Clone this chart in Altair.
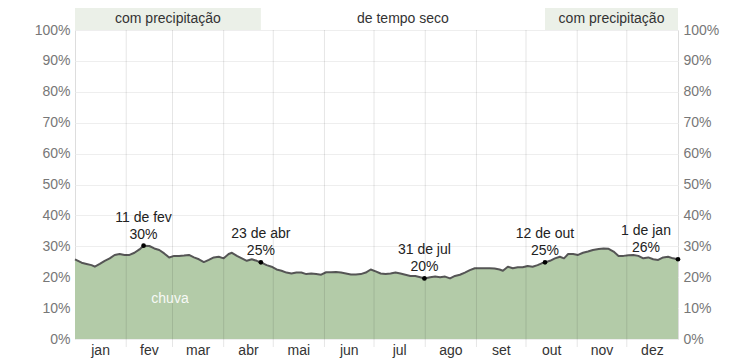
import altair as alt
import pandas as pd

# ---- data ----
days = [0, 4, 7, 10, 12, 15, 18, 21, 24, 27, 30, 33, 36, 39, 41.5, 45, 48, 51, 54, 57,
        60, 63, 66, 69, 72, 75, 78, 81, 84, 87, 90, 93, 95, 98, 101, 104, 107, 110, 112.5,
        116, 119, 122, 125, 128, 131, 134, 137, 140, 143, 146, 149, 152, 155, 158, 161,
        164, 167, 170, 173, 176, 179, 182, 185, 188, 191, 194, 197, 200, 203, 206, 209,
        211.5, 215, 218, 221, 224, 227, 230, 233, 236, 239, 242, 245, 248, 251, 254, 257,
        259, 262, 265, 268, 271, 274, 277, 280, 282.5, 284.5, 287.5, 290.5, 293.5, 296,
        298.5, 301.5, 304.5, 307.5, 310.5, 313.5, 317, 320, 323, 326, 329, 332, 335, 338,
        341, 344, 347, 350, 353, 356, 359, 362, 365]
rain = [25.8, 24.7, 24.3, 23.9, 23.4, 24.3, 25.3, 26.1, 27.2, 27.5, 27.2, 27.2, 27.9, 29.0,
        30.2, 30.1, 29.3, 28.8, 27.7, 26.4, 26.9, 26.9, 27.0, 27.2, 26.4, 25.8, 24.9, 25.6,
        26.4, 26.6, 26.1, 27.5, 27.9, 26.9, 26.1, 25.3, 25.8, 25.3, 24.8, 23.9, 23.4, 22.5,
        22.1, 21.5, 21.2, 21.5, 21.5, 21.0, 21.2, 21.0, 20.8, 21.6, 21.6, 21.7, 21.5, 21.2,
        20.9, 20.9, 21.0, 21.5, 22.5, 21.9, 21.2, 21.0, 21.2, 21.5, 21.2, 20.8, 20.4, 20.4,
        20.0, 19.6, 20.0, 20.2, 20.0, 20.2, 19.6, 20.4, 20.8, 21.5, 22.3, 22.9, 22.9, 22.9,
        22.9, 22.8, 22.5, 22.1, 23.4, 22.9, 23.2, 23.2, 23.6, 23.4, 23.9, 24.5, 24.8, 25.3,
        26.1, 26.6, 26.1, 27.5, 27.5, 27.2, 27.9, 28.3, 28.8, 29.1, 29.3, 29.2, 28.3, 26.9,
        26.9, 27.1, 27.2, 26.9, 26.1, 26.4, 25.8, 25.6, 26.4, 26.6, 26.1, 25.8]

months = ["jan", "fev", "mar", "abr", "mai", "jun", "jul", "ago", "set", "out", "nov", "dez"]
month_len = [31, 28, 31, 30, 31, 30, 31, 31, 30, 31, 30, 31]

ann_day = [41.5, 112.5, 211.5, 284.5]
ann_val = [30.2, 24.8, 19.6, 24.8]
ann_text = ["11 de fev\n30%", "23 de abr\n25%", "31 de jul\n20%", "12 de out\n25%"]
end_day = [365]
end_val = [25.8]
end_text = ["1 de jan\n26%"]

season_start = [0, 112.5, 284.5]
season_end = [112.5, 284.5, 365]
season_label = ["com precipitação", "de tempo seco", "com precipitação"]
season_wet = [True, False, True]

label_day = [57.5]
label_val = [13]
label_text = ["chuva"]

# ---- derived tables ----
starts = [sum(month_len[:i]) for i in range(12)]
mids = [s + l / 2 for s, l in zip(starts, month_len)]
bounds = starts[1:]

df = pd.DataFrame({"day": days, "rain": rain})
df_b = pd.DataFrame({"day": bounds})
df_m = pd.DataFrame({"day": mids, "m": months})
df_ann = pd.DataFrame({"day": ann_day, "v": ann_val, "t": ann_text})
df_end = pd.DataFrame({"day": end_day, "v": end_val, "t": end_text})
df_dots = pd.DataFrame({"day": ann_day + end_day, "v": ann_val + end_val})
df_s = pd.DataFrame({"s": season_start, "e": season_end, "t": season_label, "wet": season_wet})
df_s["mid"] = (df_s["s"] + df_s["e"]) / 2
df_l = pd.DataFrame({"day": label_day, "v": label_val, "t": label_text})

W, H = 603, 309
FONT = "Liberation Sans"

xscale = alt.Scale(domain=[0, 365], nice=False, zero=False)
yscale = alt.Scale(domain=[0, 100], nice=False)

y_left = alt.Axis(values=list(range(0, 101, 10)), labelExpr="datum.value + '%'",
                  orient="left", ticks=False, domain=False, grid=True, gridColor="#eeeeee",
                  title=None, labelFontSize=14, labelColor="#777", labelPadding=5,
                  labelFont=FONT)
y_right = alt.Axis(values=list(range(0, 101, 10)), labelExpr="datum.value + '%'",
                   orient="right", ticks=False, domain=False, grid=False,
                   title=None, labelFontSize=14, labelColor="#777", labelPadding=5,
                   labelFont=FONT)

X = lambda f: alt.X(f, scale=xscale, axis=None)

area = alt.Chart(df).mark_area(color="#b3cba8", opacity=1).encode(
    x=X("day:Q"),
    y=alt.Y("rain:Q", scale=yscale, axis=y_left),
)
line = alt.Chart(df).mark_line(color="#555555", strokeWidth=2, strokeJoin="round").encode(
    x=X("day:Q"),
    y=alt.Y("rain:Q", scale=yscale, axis=y_right),
)
vrules = alt.Chart(df_b).mark_rule(color="black", opacity=0.1, strokeWidth=1).encode(
    x=X("day:Q"),
    y=alt.value(0),
    y2=alt.value(H + 8),
)
month_text = alt.Chart(df_m).mark_text(
    fontSize=14, color="#333", baseline="middle", font=FONT
).encode(
    x=X("day:Q"),
    y=alt.value(H + 12),
    text="m:N",
)
dots = alt.Chart(df_dots).mark_circle(color="black", size=22, opacity=1).encode(
    x=X("day:Q"),
    y=alt.Y("v:Q", scale=yscale, axis=None),
)
ann = alt.Chart(df_ann).mark_text(
    lineBreak="\n", baseline="bottom", align="center", dy=-21, fontSize=14,
    lineHeight=17, color="#222", font=FONT
).encode(
    x=X("day:Q"),
    y=alt.Y("v:Q", scale=yscale, axis=None),
    text="t:N",
)
ann_end = alt.Chart(df_end).mark_text(
    lineBreak="\n", baseline="bottom", align="center", dx=-32, dy=-21, fontSize=14,
    lineHeight=17, color="#222", font=FONT
).encode(
    x=X("day:Q"),
    y=alt.Y("v:Q", scale=yscale, axis=None),
    text="t:N",
)
bands = alt.Chart(df_s).transform_filter("datum.wet").mark_rect(color="#ebf0e8").encode(
    x=X("s:Q"),
    x2="e:Q",
    y=alt.value(-22),
    y2=alt.value(0),
)
band_text = alt.Chart(df_s).mark_text(
    fontSize=14, color="#333", baseline="middle", font=FONT
).encode(
    x=X("mid:Q"),
    y=alt.value(-11),
    text="t:N",
)
chuva = alt.Chart(df_l).mark_text(
    fontSize=14, color="white", opacity=0.9, baseline="middle", font=FONT
).encode(
    x=X("day:Q"),
    y=alt.Y("v:Q", scale=yscale, axis=None),
    text="t:N",
)

chart = alt.layer(
    area, line, vrules, month_text, dots, ann, ann_end, bands, band_text, chuva
).resolve_axis(y="independent").properties(
    width=W, height=H,
    padding={"left": 67, "top": 22, "right": 50, "bottom": 24},
    autosize=alt.AutoSizeParams(type="none"),
).configure_view(stroke=None).configure(font=FONT)

chart.save("out.html", embed_options={"renderer": "svg", "actions": False})
